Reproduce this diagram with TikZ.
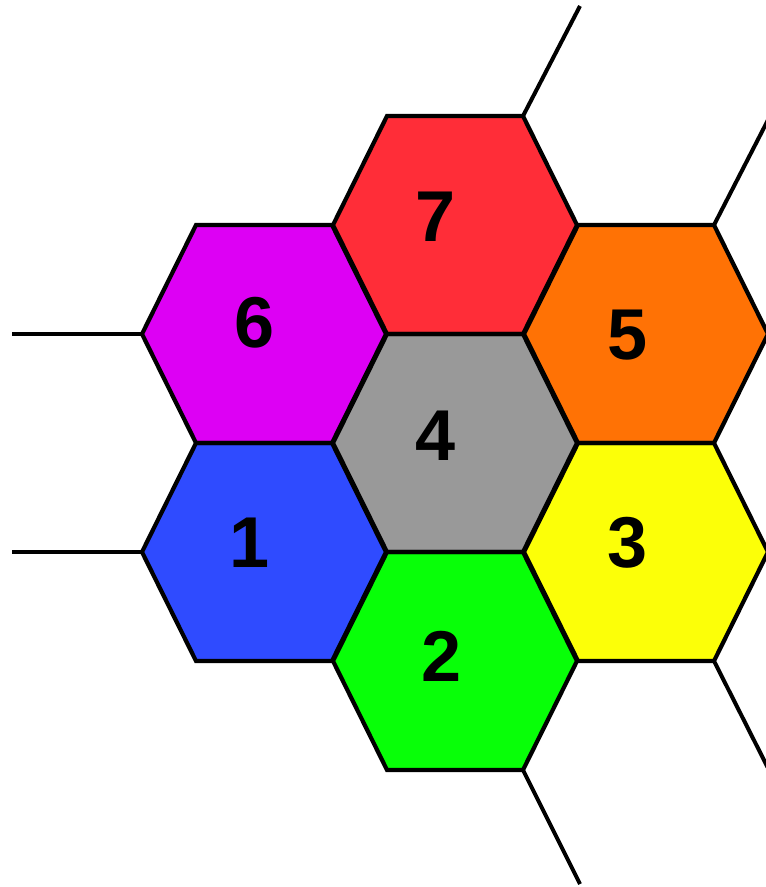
\documentclass[tikz,border=0pt]{standalone}
\usepackage{fontspec}
\setmainfont{Liberation Sans}
\definecolor{hred}{HTML}{FF2D38}
\definecolor{hmag}{HTML}{DD00F4}
\definecolor{horange}{HTML}{FF7205}
\definecolor{hgray}{HTML}{999999}
\definecolor{hblue}{HTML}{2F4BFF}
\definecolor{hyellow}{HTML}{FCFF08}
\definecolor{hgreen}{HTML}{08FF08}
\begin{document}
\begin{tikzpicture}[x=1pt,y=-1pt,
  hexline/.style={line width=4.2pt, line join=miter, draw=black},
  outerline/.style={line width=4pt, draw=black},
  digit/.style={font=\bfseries\fontsize{72}{72}\selectfont, inner sep=0pt, text=black}]
\useasboundingbox (0,0) rectangle (766,887);
% hex centres
\coordinate (c7) at (455,225);
\coordinate (c6) at (264,334);
\coordinate (c5) at (646,334);
\coordinate (c4) at (455,443);
\coordinate (c1) at (264,552);
\coordinate (c3) at (646,552);
\coordinate (c2) at (455,661);
% fills
\foreach \n/\col in {7/hred,6/hmag,5/horange,4/hgray,1/hblue,3/hyellow,2/hgreen}{
  \fill[\col] (c\n) ++(-122,0) -- ++(54,-109) -- ++(136,0) -- ++(54,109)
     -- ++(-54,109) -- ++(-136,0) -- cycle;
}
% outlines
\foreach \n in {7,6,5,4,1,3,2}{
  \draw[hexline] (c\n) ++(-122,0) -- ++(54,-109) -- ++(136,0) -- ++(54,109)
     -- ++(-54,109) -- ++(-136,0) -- cycle;
}
% vertices where outer lines start
\coordinate (v7tr) at (523,116);
\coordinate (v5tr) at (714,225);
\coordinate (v6l) at (142,334);
\coordinate (v1l) at (142,552);
\coordinate (v3br) at (714,661);
\coordinate (v2br) at (523,770);
% free ends
\coordinate (e7) at (580,6);
\coordinate (e5) at (769,118);
\coordinate (e6) at (12,334);
\coordinate (e1) at (12,552);
\coordinate (e3) at (769,770);
\coordinate (e2) at (580,884);
\draw[outerline] (v7tr) -- (e7);
\draw[outerline] (v5tr) -- (e5);
\draw[outerline] (v6l) -- (e6);
\draw[outerline] (v1l) -- (e1);
\draw[outerline] (v3br) -- (e3);
\draw[outerline] (v2br) -- (e2);
% labels
\node[digit] (d7) at (436,216.5) {7};
\node[digit] (d6) at (255,323) {6};
\node[digit] (d5) at (628,335) {5};
\node[digit] (d4) at (436,436) {4};
\node[digit] (d1) at (250,542.5) {1};
\node[digit] (d3) at (628,543) {3};
\node[digit] (d2) at (442,656.5) {2};
\end{tikzpicture}
\end{document}
